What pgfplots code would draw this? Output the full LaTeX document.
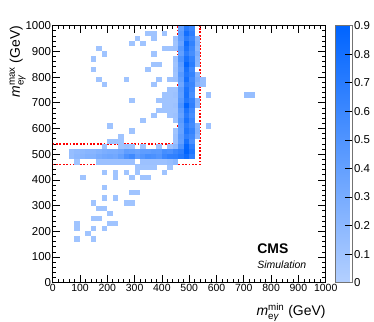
\documentclass[border=0pt]{standalone}
\usepackage{fontspec}
\setmainfont{Liberation Sans}
\usepackage{amsmath}
\usepackage{pgfplots}
\pgfplotsset{compat=1.18}

% one histogram bin: 20 GeV x 20 GeV on a 273bp x 257bp axis
\pgfdeclareplotmark{hbin}{%
  \pgfpathrectangle{\pgfpoint{-2.79bp}{-2.63bp}}{\pgfpoint{5.58bp}{5.26bp}}%
  \pgfusepathqfill}

\pgfplotstableread{
x y c
350 970 0.1
370 970 0.1
370 950 0.1
410 970 0.1
310 950 0.1
290 930 0.1
330 930 0.1
410 910 0.1
430 910 0.1
450 910 0.12
450 950 0.12
450 930 0.1
170 910 0.1
190 890 0.1
150 870 0.1
370 890 0.1
370 850 0.1
390 850 0.1
350 830 0.1
150 830 0.1
450 870 0.12
450 850 0.1
450 830 0.12
450 810 0.1
170 790 0.1
190 770 0.1
270 790 0.1
390 790 0.1
370 770 0.1
430 790 0.1
450 790 0.12
430 750 0.1
450 750 0.1
410 730 0.1
430 730 0.1
450 730 0.12
290 710 0.1
390 710 0.1
410 710 0.1
430 710 0.1
450 710 0.1
410 690 0.1
430 690 0.1
450 690 0.12
390 670 0.1
410 670 0.1
430 670 0.1
450 670 0.1
370 650 0.1
430 650 0.1
450 650 0.12
330 630 0.1
450 630 0.1
210 610 0.1
290 590 0.1
450 590 0.1
250 570 0.1
450 570 0.12
210 550 0.1
230 550 0.1
250 550 0.1
450 550 0.12
110 410 0.1
190 430 0.1
230 430 0.1
230 410 0.1
270 430 0.1
290 410 0.1
310 450 0.1
310 430 0.1
330 410 0.1
350 410 0.1
410 430 0.1
330 450 0.1
350 450 0.1
370 450 0.1
430 450 0.1
190 370 0.1
190 330 0.1
230 330 0.1
290 350 0.1
310 350 0.1
150 310 0.1
170 290 0.1
190 290 0.1
270 310 0.1
290 310 0.1
210 270 0.1
150 250 0.1
170 250 0.1
210 230 0.1
230 230 0.1
90 230 0.1
90 210 0.1
150 210 0.1
190 210 0.1
130 190 0.1
90 170 0.1
150 170 0.1
530 950 0.22
530 930 0.25
530 910 0.2
530 890 0.28
530 870 0.22
530 850 0.2
530 810 0.22
530 790 0.28
530 770 0.22
530 710 0.22
530 690 0.2
530 610 0.22
530 590 0.25
530 570 0.2
550 790 0.15
550 770 0.15
570 730 0.12
570 610 0.12
710 730 0.15
730 730 0.15
470 990 0.40
490 990 0.70
510 990 0.60
470 970 0.45
490 970 0.80
510 970 0.66
470 950 0.42
490 950 0.68
510 950 0.58
470 930 0.36
490 930 0.83
510 930 0.64
470 910 0.45
490 910 0.76
510 910 0.58
470 890 0.40
490 890 0.68
510 890 0.54
470 870 0.50
490 870 0.78
510 870 0.64
470 850 0.42
490 850 0.88
510 850 0.68
470 830 0.38
490 830 0.78
510 830 0.58
470 810 0.45
490 810 0.73
510 810 0.63
470 790 0.40
490 790 0.80
510 790 0.56
470 770 0.34
490 770 0.68
510 770 0.60
470 750 0.42
490 750 0.76
510 750 0.58
470 730 0.40
490 730 0.78
510 730 0.53
470 710 0.45
490 710 0.73
510 710 0.63
470 690 0.50
490 690 0.90
510 690 0.66
470 670 0.42
490 670 0.76
510 670 0.58
470 650 0.38
490 650 0.70
510 650 0.53
470 630 0.45
490 630 0.78
510 630 0.60
470 610 0.40
490 610 0.68
510 610 0.56
470 590 0.38
490 590 0.74
510 590 0.63
470 570 0.42
490 570 0.66
510 570 0.58
470 550 0.40
490 550 0.78
510 550 0.53
190 530 0.1
250 530 0.1
270 530 0.12
290 530 0.1
330 530 0.1
390 530 0.1
430 530 0.12
450 530 0.2
470 530 0.50
490 530 0.88
510 530 0.66
70 510 0.15
90 510 0.18
110 510 0.20
130 510 0.22
150 510 0.22
170 510 0.25
190 510 0.28
210 510 0.30
230 510 0.30
250 510 0.33
270 510 0.42
290 510 0.40
310 510 0.37
330 510 0.42
350 510 0.42
370 510 0.45
390 510 0.44
410 510 0.55
430 510 0.52
450 510 0.60
470 510 0.66
490 510 0.90
510 510 0.74
70 490 0.15
90 490 0.20
110 490 0.22
130 490 0.25
150 490 0.25
170 490 0.30
190 490 0.33
210 490 0.35
230 490 0.33
250 490 0.40
270 490 0.52
290 490 0.58
310 490 0.42
330 490 0.48
350 490 0.54
370 490 0.52
390 490 0.48
410 490 0.60
430 490 0.65
450 490 0.66
470 490 0.72
490 490 0.82
510 490 0.66
90 470 0.1
170 470 0.12
190 470 0.12
210 470 0.12
230 470 0.12
250 470 0.12
270 470 0.12
290 470 0.12
330 470 0.12
350 470 0.12
370 470 0.12
390 470 0.12
410 470 0.12
430 470 0.15
450 470 0.2
}\bins

\begin{document}
\begin{tikzpicture}
\path[use as bounding box] (-52.7bp,-39.3bp) rectangle (321.3bp,282.7bp);
\begin{axis}[
  at={(0,0)}, anchor=south west,
  scale only axis, width=273bp, height=257bp,
  xmin=0, xmax=1000, ymin=0, ymax=1000,
  xtick={0,100,...,1000}, ytick={0,100,...,1000},
  minor tick num=4,
  tick align=inside,
  major tick length=7.5bp, minor tick length=3.5bp,
  tick style={black, line width=0.7bp},
  axis line style={line width=0.9bp},
  /pgf/number format/assume math mode=true,
  /pgf/number format/1000 sep={},
  xticklabel style={font=\fontsize{10.5}{12}\selectfont, inner sep=1.5bp},
  yticklabel style={font=\fontsize{11.5}{13}\selectfont, inner sep=1.5bp},
  xlabel={\textit{m}$^{\text{min}}_{\text{e\textit{γ}}}$ (GeV)},
  ylabel={\textit{m}$^{\text{max}}_{\text{e\textit{γ}}}$ (GeV)},
  xlabel style={at={(axis description cs:1,0)}, anchor=base east, yshift=-33bp,
    inner sep=0pt, font=\fontsize{14}{16}\selectfont},
  ylabel style={at={(axis description cs:-0.1198,1)}, anchor=base east,
    inner sep=0pt, font=\fontsize{14}{16}\selectfont},
  colormap={cms}{rgb255=(180,208,255) rgb255=(0,100,255)},
  point meta min=0, point meta max=0.9,
  colorbar,
  colorbar style={
    width=17.6bp,
    at={(parent axis.south east)}, anchor=south west, xshift=1bp,
    ytick={0,0.1,0.2,0.3,0.4,0.5,0.6,0.7,0.8,0.9},
    yticklabels={0,0.1,0.2,0.3,0.4,0.5,0.6,0.7,0.8,0.9},
    ytick pos=right, yticklabel pos=right,
    tick align=inside, major tick length=8bp,
    tick style={black, line width=0.7bp},
    axis line style={draw=black!55, line width=0.8bp},
    yticklabel style={font=\fontsize{11.5}{13}\selectfont, inner sep=1bp},
  },
]
\addplot[scatter, only marks, mark=hbin, point meta=explicit]
  table[x=x, y=y, meta=c] {\bins};
\addplot[red, line width=1.7bp, dash pattern=on 1.7bp off 1.7bp]
  coordinates {(0,540) (460,540) (460,1000)};
\addplot[red, line width=1.7bp, dash pattern=on 1.7bp off 1.7bp]
  coordinates {(0,460) (540,460) (540,1000)};
\node[anchor=base west, inner sep=0pt, font=\fontsize{14}{16}\selectfont\bfseries]
  at (axis cs:749,112) {CMS};
\node[anchor=base west, inner sep=0pt, font=\fontsize{10.5}{12}\selectfont\itshape]
  at (axis cs:749,57) {Simulation};
\end{axis}
\end{tikzpicture}
\end{document}
